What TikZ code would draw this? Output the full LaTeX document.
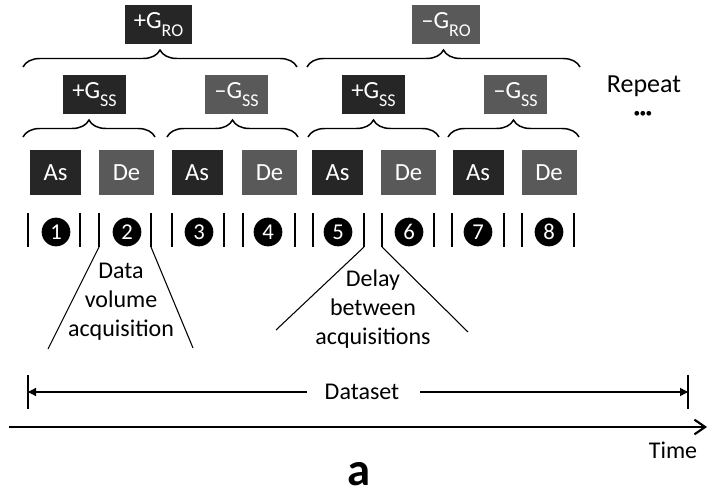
\documentclass[tikz,border=0pt]{standalone}
\usepackage{fontspec}
\setmainfont{Carlito}
\usetikzlibrary{decorations.pathreplacing,arrows.meta}
\definecolor{dk}{HTML}{262626}
\definecolor{gy}{HTML}{595959}
\newcommand{\lsub}[1]{\raisebox{-0.3em}{\fontsize{13.5pt}{13.5pt}\selectfont #1}}
\begin{document}
\begin{tikzpicture}[x=0.75pt,y=-0.75pt,
  box/.style={inner sep=0pt,text=white,font=\fontsize{18.5pt}{21pt}\selectfont},
  dkbox/.style={box,fill=dk},
  gybox/.style={box,fill=gy},
  ro/.style={minimum width=50.5pt,minimum height=29.25pt},
  ss/.style={minimum width=47.25pt,minimum height=29.25pt},
  asb/.style={minimum width=38.25pt,minimum height=33.75pt},
  deb/.style={minimum width=41.25pt,minimum height=33.75pt},
  brc/.style={decorate,decoration={brace,amplitude=12.75pt},line width=1.1pt},
  bar/.style={line width=1.1pt},
  num/.style={circle,fill=black,text=white,inner sep=0pt,minimum size=21.5pt,font=\fontsize{17pt}{17pt}\selectfont},
  lbl/.style={font=\fontsize{18pt}{21.75pt}\selectfont,align=center},
  thin/.style={line width=0.8pt}
]
\useasboundingbox (0,0) rectangle (710,491);

% top level boxes
\node[dkbox,ro] (ropos) at (158.5,24.5) {+G\lsub{RO}};
\node[gybox,ro] (roneg) at (446,24.5) {–G\lsub{RO}};
\draw[brc] (23,67) coordinate (t1l) -- (297,67) coordinate (t1r);
\draw[brc] (307,67) coordinate (t2l) -- (580,67) coordinate (t2r);

% second level
\node[dkbox,ss] (ss1) at (94.5,94.5) {+G\lsub{SS}};
\node[gybox,ss] (ss2) at (236.5,94.5) {–G\lsub{SS}};
\node[dkbox,ss] (ss3) at (373.5,94.5) {+G\lsub{SS}};
\node[gybox,ss] (ss4) at (515.5,94.5) {–G\lsub{SS}};
\draw[brc] (23,137) coordinate (s1l) -- (155,137) coordinate (s1r);
\draw[brc] (167,137) coordinate (s2l) -- (298,137) coordinate (s2r);
\draw[brc] (308,137) coordinate (s3l) -- (439,137) coordinate (s3r);
\draw[brc] (448,137) coordinate (s4l) -- (579,137) coordinate (s4r);

\node[lbl,font=\fontsize{19.5pt}{22pt}\selectfont] (rep) at (644,86) {Repeat};
\node[inner sep=0pt,font=\fontsize{10pt}{10pt}\selectfont] (dots) at (643,114) {•\kern-0.5pt•\kern-0.5pt•};

% As / De
\node[dkbox,asb] (as1) at (55.5,172.5) {As};
\node[gybox,deb] (de1) at (126.5,172.5) {De};
\node[dkbox,asb] (as2) at (197,172.5) {As};
\node[gybox,deb] (de2) at (269.5,172.5) {De};
\node[dkbox,asb] (as3) at (337.5,172.5) {As};
\node[gybox,deb] (de3) at (408.5,172.5) {De};
\node[dkbox,asb] (as4) at (478,172.5) {As};
\node[gybox,deb] (de4) at (549,172.5) {De};

% numbers and bars
\foreach \x/\n in {56/1,127/2,199/3,268/4,338/5,409/6,478/7,549/8}{
  \node[num] (n\n) at (\x,232) {\n};
}
\foreach \x/\k in {28/a,80/b,99/c,151/d,172/e,224/f,243/g,295/h,313/i,364/j,382/k,434/l,452/m,504/n,522/o,574/p}{
  \coordinate (bt\k) at (\x,213);
  \coordinate (bb\k) at (\x,247);
  \draw[bar] (bt\k) -- (bb\k);
}

% triangles
\coordinate (tr1l) at (48,349);
\coordinate (tr1r) at (193,348);
\draw[thin] (bbc) -- (tr1l);
\draw[thin] (bbd) -- (tr1r);
\node[lbl] (dva) at (121,302) {Data\\volume\\acquisition};

\coordinate (tr2l) at (276,330);
\coordinate (tr2r) at (468,332);
\draw[thin] (bbj) -- (tr2l);
\draw[thin] (bbk) -- (tr2r);
\node[lbl] (dba) at (373,309) {Delay\\between\\acquisitions};

% dataset
\node[lbl] (ds) at (362,392) {Dataset};
\coordinate (dsl) at (28,392);
\coordinate (dsr) at (688,392);
\draw[bar] (28,375) coordinate (dsl1) -- (28,409) coordinate (dsl2);
\draw[bar] (688,375) coordinate (dsr1) -- (688,409) coordinate (dsr2);
\coordinate (dsw) at (307,392);
\coordinate (dse) at (420,392);
\draw[bar,-{Triangle[length=6pt,width=6pt]}] (dsw) -- (dsl);
\draw[bar,-{Triangle[length=6pt,width=6pt]}] (dse) -- (dsr);

% time axis
\coordinate (tl) at (9,427);
\coordinate (tr) at (707,427);
\draw[line width=1.6pt,-{Straight Barb[length=8pt,width=11pt,line width=1.6pt]}] (tl) -- (tr);
\node[lbl] (time) at (673,450) {Time};
\node[anchor=base,inner sep=0pt,font=\bfseries\fontsize{35pt}{38pt}\selectfont] (lab) at (359,485) {a};
\end{tikzpicture}
\end{document}
